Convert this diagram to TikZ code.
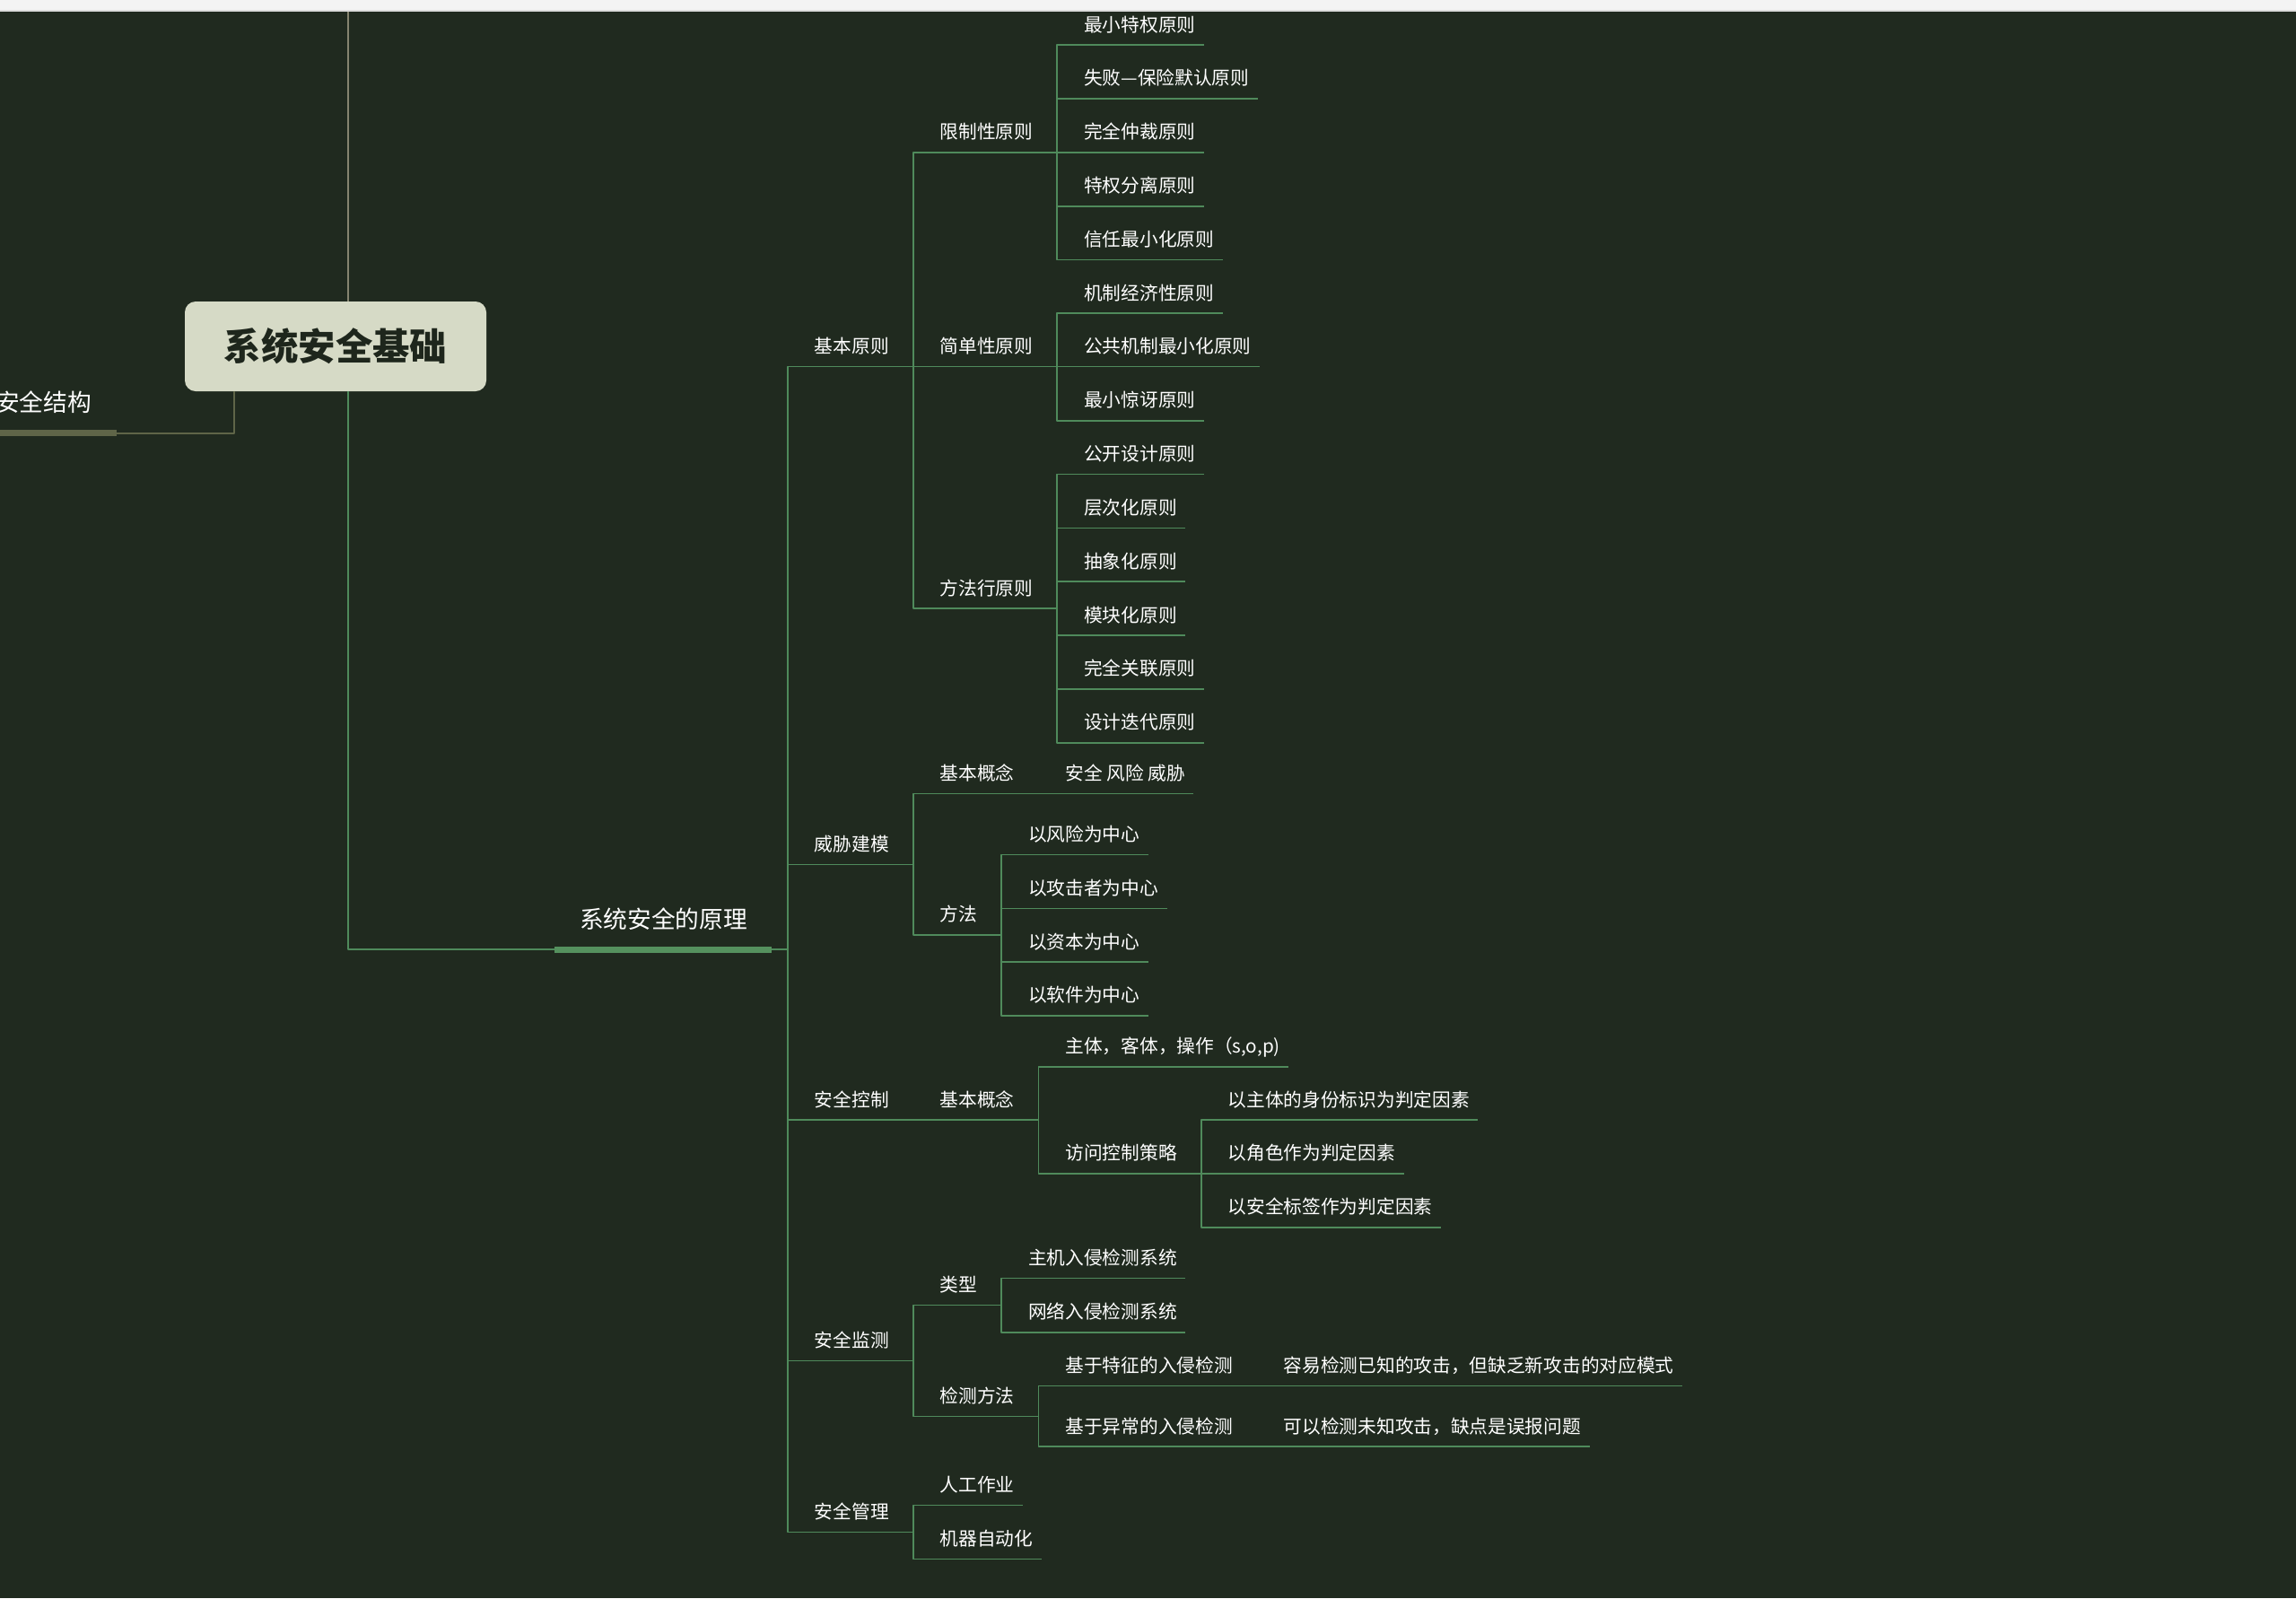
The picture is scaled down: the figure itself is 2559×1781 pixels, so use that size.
\documentclass[tikz,border=0pt]{standalone}
\usepackage{fontspec}
\newfontfamily\cjk{Noto Sans CJK SC}
\definecolor{mapbg}{HTML}{202A1F}
\definecolor{mapline}{HTML}{4F8A5B}
\definecolor{mapbar}{HTML}{55915E}
\definecolor{upperline}{HTML}{858470}
\definecolor{sideolive}{HTML}{5F6548}
\definecolor{rootfill}{HTML}{D6DAC6}
\definecolor{rootink}{HTML}{1E261C}
\definecolor{stripgray}{HTML}{F3F3F3}
\definecolor{stripedge}{HTML}{DCDCDC}

\begin{document}
\begin{tikzpicture}[
  x=1pt,
  y=-1pt,
  line join=round,
  link/.style={draw=mapline,line width=1.6pt},
  upline/.style={draw=upperline,line width=1.6pt},
  sideline/.style={draw=sideolive,line width=1.8pt},
  sidebar/.style={draw=sideolive,line width=7pt},
  mainbar/.style={draw=mapbar,line width=7pt},
  rootbox/.style={fill=rootfill,rounded corners=12pt,minimum width=336pt,
    minimum height=100pt,inner sep=0pt,text=rootink,
    font=\cjk\bfseries\fontsize{41.4}{48}\selectfont},
  branch/.style={anchor=south west,inner sep=0pt,outer sep=0pt,text=white,
    font=\cjk\fontsize{26.7}{30}\selectfont,text depth=24pt,
    execute at begin node=\hspace*{28pt}},
  tnode/.style={anchor=south west,inner sep=0pt,outer sep=0pt,text=white,
    font=\cjk\fontsize{20.7}{24}\selectfont,text depth=15pt,
    execute at begin node=\hspace*{30pt}},
  topic/.style={tnode,execute at end node=\hspace*{27pt}},
  leaf/.style={tnode,execute at end node=\hspace*{9.5pt}}
]
  % Screenshot frame: dark canvas with the light strip on top.
  \useasboundingbox (0,0) rectangle (2559,1781);
  \fill[mapbg] (0,0) rectangle (2559,1781);
  \fill[stripgray] (0,0) rectangle (2559,11);
  \draw[stripedge,line width=1.6pt] (0,11.8) -- (2559,11.8);

  % Central topic and the two branches that leave it.
  \node[rootbox] (root) at (374,386) {系统安全基础};
  \coordinate (upper) at (388,12.7);
  \node[branch,anchor=south east,execute at end node=\hspace*{28pt}] (jg) at (130,482.7) {安全结构};
  \node[branch,execute at end node=\hspace*{45pt}] (yl) at (618,1058) {系统安全的原理};

  % Second level.
  \node[topic] (jbyz) at (yl.south east |- 0,408.3) {基本原则};
  \node[topic] (wxjm) at (yl.south east |- 0,963.3) {威胁建模};
  \node[topic] (aqkz) at (yl.south east |- 0,1248) {安全控制};
  \node[topic] (aqjc) at (yl.south east |- 0,1516.3) {安全监测};
  \node[topic] (aqgl) at (yl.south east |- 0,1707.3) {安全管理};

  % Third level.
  \node[topic] (xzx) at (jbyz.south east |- 0,169.7) {限制性原则};
  \node[topic] (jdx) at (jbyz.south east |- 0,408.3) {简单性原则};
  \node[topic] (ffx) at (jbyz.south east |- 0,678) {方法行原则};
  \node[topic] (jbgnA) at (wxjm.south east |- 0,884.3) {基本概念};
  \node[topic] (ffA) at (wxjm.south east |- 0,1041.7) {方法};
  \node[topic] (jbgnB) at (aqkz.south east |- 0,1248) {基本概念};
  \node[topic] (lx) at (aqjc.south east |- 0,1454.3) {类型};
  \node[topic] (jcff) at (aqjc.south east |- 0,1578.3) {检测方法};
  \node[leaf] (rgzy) at (aqgl.south east |- 0,1677.3) {人工作业};
  \node[leaf] (jqzdh) at (aqgl.south east |- 0,1737.3) {机器自动化};

  % Principles.
  \node[leaf] (zxtq) at (xzx.south east |- 0,50) {最小特权原则};
  \node[leaf] (sbbx) at (xzx.south east |- 0,109.7) {失败—保险默认原则};
  \node[leaf] (wqzc) at (xzx.south east |- 0,169.7) {完全仲裁原则};
  \node[leaf] (tqfl) at (xzx.south east |- 0,229.7) {特权分离原则};
  \node[leaf] (xrzx) at (xzx.south east |- 0,289.3) {信任最小化原则};
  \node[leaf] (jzjj) at (jdx.south east |- 0,349) {机制经济性原则};
  \node[leaf] (ggjz) at (jdx.south east |- 0,408.3) {公共机制最小化原则};
  \node[leaf] (zxjy) at (jdx.south east |- 0,468.7) {最小惊讶原则};
  \node[leaf] (gksj) at (ffx.south east |- 0,528.3) {公开设计原则};
  \node[leaf] (ccxh) at (ffx.south east |- 0,588.3) {层次化原则};
  \node[leaf] (cxh) at (ffx.south east |- 0,648) {抽象化原则};
  \node[leaf] (mkh) at (ffx.south east |- 0,708) {模块化原则};
  \node[leaf] (wqgl) at (ffx.south east |- 0,767.7) {完全关联原则};
  \node[leaf] (sjdd) at (ffx.south east |- 0,827.7) {设计迭代原则};

  % Threat modelling, control and monitoring details.
  \node[leaf] (aqfx) at (jbgnA.south east |- 0,884.3) {安全 风险 威胁};
  \node[leaf] (yfx) at (ffA.south east |- 0,952.3) {以风险为中心};
  \node[leaf] (ygjz) at (ffA.south east |- 0,1012.3) {以攻击者为中心};
  \node[leaf] (yzb) at (ffA.south east |- 0,1072) {以资本为中心};
  \node[leaf] (yrj) at (ffA.south east |- 0,1131.7) {以软件为中心};
  \node[leaf] (ztkt) at (jbgnB.south east |- 0,1188.7) {主体，客体，操作（s,o,p)};
  \node[topic] (fwkz) at (jbgnB.south east |- 0,1307.7) {访问控制策略};
  \node[leaf] (ysf) at (fwkz.south east |- 0,1248) {以主体的身份标识为判定因素};
  \node[leaf] (yjs) at (fwkz.south east |- 0,1307.7) {以角色作为判定因素};
  \node[leaf] (ybq) at (fwkz.south east |- 0,1367.7) {以安全标签作为判定因素};
  \node[leaf] (zjrq) at (lx.south east |- 0,1424.3) {主机入侵检测系统};
  \node[leaf] (wlrq) at (lx.south east |- 0,1484.7) {网络入侵检测系统};
  \node[topic] (tzjc) at (jcff.south east |- 0,1544.3) {基于特征的入侵检测};
  \node[topic] (ycjc) at (jcff.south east |- 0,1612) {基于异常的入侵检测};
  \node[leaf] (tzsm) at (tzjc.south east |- 0,1544.3) {容易检测已知的攻击，但缺乏新攻击的对应模式};
  \node[leaf] (ycsm) at (ycjc.south east |- 0,1612) {可以检测未知攻击，缺点是误报问题};

  % Branches off the central topic.
  \draw[upline] (upper) -- ([xshift=14]root.north);
  \draw[sideline] ([xshift=-113]root.south) |- (jg.south east);
  \draw[sidebar] (jg.south west) -- (jg.south east);
  \draw[link] ([xshift=14]root.south) |- (yl.south west) -- (yl.south east);
  \draw[mainbar] (yl.south west) -- ([xshift=-18]yl.south east);

  % Underlines and elbow connectors, parent end to child start.
  \draw[link] (yl.south east) |- (jbyz.south west) -- (jbyz.south east);
  \draw[link] (yl.south east) |- (wxjm.south west) -- (wxjm.south east);
  \draw[link] (yl.south east) |- (aqkz.south west) -- (aqkz.south east);
  \draw[link] (yl.south east) |- (aqjc.south west) -- (aqjc.south east);
  \draw[link] (yl.south east) |- (aqgl.south west) -- (aqgl.south east);

  \draw[link] (jbyz.south east) |- (xzx.south west) -- (xzx.south east);
  \draw[link] (jbyz.south east) |- (jdx.south west) -- (jdx.south east);
  \draw[link] (jbyz.south east) |- (ffx.south west) -- (ffx.south east);
  \draw[link] (wxjm.south east) |- (jbgnA.south west) -- (jbgnA.south east);
  \draw[link] (wxjm.south east) |- (ffA.south west) -- (ffA.south east);
  \draw[link] (aqkz.south east) |- (jbgnB.south west) -- (jbgnB.south east);
  \draw[link] (aqjc.south east) |- (lx.south west) -- (lx.south east);
  \draw[link] (aqjc.south east) |- (jcff.south west) -- (jcff.south east);
  \draw[link] (aqgl.south east) |- (rgzy.south west) -- (rgzy.south east);
  \draw[link] (aqgl.south east) |- (jqzdh.south west) -- (jqzdh.south east);

  \draw[link] (xzx.south east) |- (zxtq.south west) -- (zxtq.south east);
  \draw[link] (xzx.south east) |- (sbbx.south west) -- (sbbx.south east);
  \draw[link] (xzx.south east) |- (wqzc.south west) -- (wqzc.south east);
  \draw[link] (xzx.south east) |- (tqfl.south west) -- (tqfl.south east);
  \draw[link] (xzx.south east) |- (xrzx.south west) -- (xrzx.south east);
  \draw[link] (jdx.south east) |- (jzjj.south west) -- (jzjj.south east);
  \draw[link] (jdx.south east) |- (ggjz.south west) -- (ggjz.south east);
  \draw[link] (jdx.south east) |- (zxjy.south west) -- (zxjy.south east);
  \draw[link] (ffx.south east) |- (gksj.south west) -- (gksj.south east);
  \draw[link] (ffx.south east) |- (ccxh.south west) -- (ccxh.south east);
  \draw[link] (ffx.south east) |- (cxh.south west) -- (cxh.south east);
  \draw[link] (ffx.south east) |- (mkh.south west) -- (mkh.south east);
  \draw[link] (ffx.south east) |- (wqgl.south west) -- (wqgl.south east);
  \draw[link] (ffx.south east) |- (sjdd.south west) -- (sjdd.south east);

  \draw[link] (jbgnA.south east) |- (aqfx.south west) -- (aqfx.south east);
  \draw[link] (ffA.south east) |- (yfx.south west) -- (yfx.south east);
  \draw[link] (ffA.south east) |- (ygjz.south west) -- (ygjz.south east);
  \draw[link] (ffA.south east) |- (yzb.south west) -- (yzb.south east);
  \draw[link] (ffA.south east) |- (yrj.south west) -- (yrj.south east);
  \draw[link] (jbgnB.south east) |- (ztkt.south west) -- (ztkt.south east);
  \draw[link] (jbgnB.south east) |- (fwkz.south west) -- (fwkz.south east);
  \draw[link] (fwkz.south east) |- (ysf.south west) -- (ysf.south east);
  \draw[link] (fwkz.south east) |- (yjs.south west) -- (yjs.south east);
  \draw[link] (fwkz.south east) |- (ybq.south west) -- (ybq.south east);
  \draw[link] (lx.south east) |- (zjrq.south west) -- (zjrq.south east);
  \draw[link] (lx.south east) |- (wlrq.south west) -- (wlrq.south east);
  \draw[link] (jcff.south east) |- (tzjc.south west) -- (tzjc.south east);
  \draw[link] (jcff.south east) |- (ycjc.south west) -- (ycjc.south east);
  \draw[link] (tzjc.south east) |- (tzsm.south west) -- (tzsm.south east);
  \draw[link] (ycjc.south east) |- (ycsm.south west) -- (ycsm.south east);
\end{tikzpicture}
\end{document}
